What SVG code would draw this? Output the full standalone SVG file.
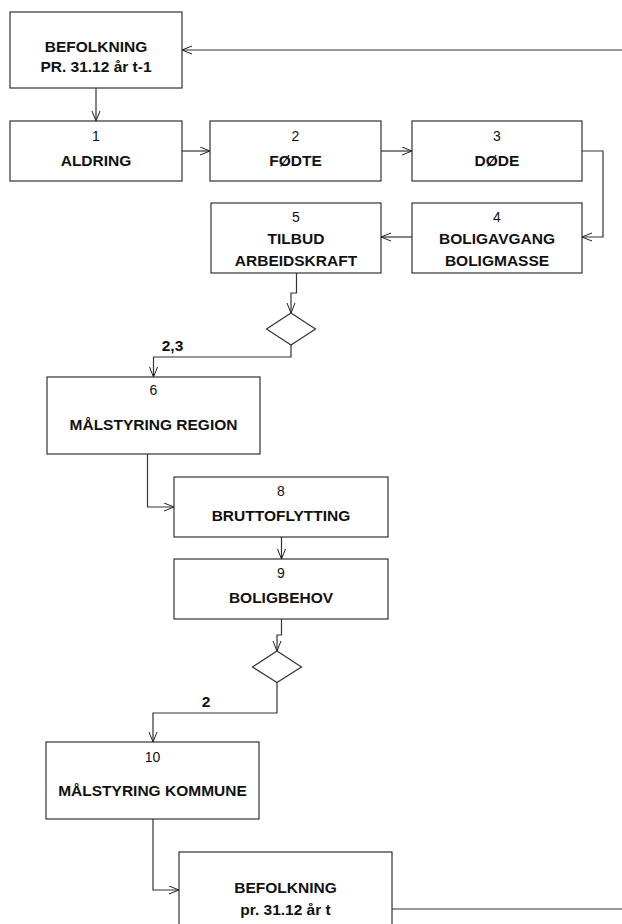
<svg xmlns="http://www.w3.org/2000/svg" width="622" height="924" viewBox="0 0 622 924">
<defs>
<marker id="arr" markerUnits="userSpaceOnUse" markerWidth="12" markerHeight="10" refX="10" refY="4.5" orient="auto">
<path d="M0,0.5 L10,4.5 L0,8.5" fill="none" stroke="#222" stroke-width="1"/>
</marker>
<style>
.box{fill:#fff;stroke:#333;stroke-width:1.2}
.c{fill:none;stroke:#333;stroke-width:1.2}
.b{font-family:"Liberation Sans",Arial,sans-serif;font-weight:bold;font-size:15.5px;text-anchor:middle;fill:#111}
.n{font-family:"Liberation Sans",Arial,sans-serif;font-size:14px;text-anchor:middle;fill:#111}
</style>
</defs>
<rect width="622" height="924" fill="#fff"/>
<g id="connectors">
<path class="c" d="M622,50 H182" marker-end="url(#arr)"/>
<path class="c" d="M96,88 V121" marker-end="url(#arr)"/>
<path class="c" d="M182,151 H210" marker-end="url(#arr)"/>
<path class="c" d="M381,151 H412" marker-end="url(#arr)"/>
<path class="c" d="M582,151 H603 V237 H582" marker-end="url(#arr)"/>
<path class="c" d="M412,237 H381" marker-end="url(#arr)"/>
<path class="c" d="M296.5,273 V293 H291 V313" marker-end="url(#arr)"/>
<path class="c" d="M291,345 V357 H153.5 V377" marker-end="url(#arr)"/>
<path class="c" d="M147.5,454 V507 H174" marker-end="url(#arr)"/>
<path class="c" d="M281.5,537 V559" marker-end="url(#arr)"/>
<path class="c" d="M281.5,619 V635 H277 V651" marker-end="url(#arr)"/>
<path class="c" d="M277,682.5 V713 H153 V742" marker-end="url(#arr)"/>
<path class="c" d="M153,819 V890 H179" marker-end="url(#arr)"/>
<path class="c" d="M392,909 H622"/>
<text class="b" x="172.5" y="351">2,3</text>
<text class="b" x="206" y="707">2</text>
</g>
<g id="n0">
<rect class="box" x="10" y="12" width="172" height="76"/>
<text class="b" x="96" y="52">BEFOLKNING</text>
<text class="b" x="96" y="72">PR. 31.12 år t-1</text>
</g>
<g id="n1">
<rect class="box" x="10" y="121" width="172" height="60"/>
<text class="n" x="96" y="141">1</text>
<text class="b" x="96" y="165.5">ALDRING</text>
</g>
<g id="n2">
<rect class="box" x="210" y="121" width="171" height="60"/>
<text class="n" x="295.5" y="141">2</text>
<text class="b" x="295.5" y="165.5">FØDTE</text>
</g>
<g id="n3">
<rect class="box" x="412" y="121" width="170" height="60"/>
<text class="n" x="497" y="141">3</text>
<text class="b" x="497" y="165.5">DØDE</text>
</g>
<g id="n4">
<rect class="box" x="412" y="203" width="170" height="70"/>
<text class="n" x="497" y="222">4</text>
<text class="b" x="497" y="243.5">BOLIGAVGANG</text>
<text class="b" x="497" y="265.5">BOLIGMASSE</text>
</g>
<g id="n5">
<rect class="box" x="211" y="203" width="170" height="70"/>
<text class="n" x="296" y="222">5</text>
<text class="b" x="296" y="243.5">TILBUD</text>
<text class="b" x="296" y="265.5">ARBEIDSKRAFT</text>
</g>
<g id="d1">
<path class="box" d="M291,313 L315.5,329 L291,345 L266.5,329 Z"/>
</g>
<g id="n6">
<rect class="box" x="47" y="377" width="213" height="77"/>
<text class="n" x="153.5" y="395">6</text>
<text class="b" x="153.5" y="429.5">MÅLSTYRING REGION</text>
</g>
<g id="n8">
<rect class="box" x="174" y="477" width="214" height="60"/>
<text class="n" x="281" y="495.5">8</text>
<text class="b" x="281" y="521">BRUTTOFLYTTING</text>
</g>
<g id="n9">
<rect class="box" x="174" y="559" width="214" height="60"/>
<text class="n" x="281" y="577.5">9</text>
<text class="b" x="281" y="602.5">BOLIGBEHOV</text>
</g>
<g id="d2">
<path class="box" d="M277,651 L301.5,667 L277,682.5 L252.5,667 Z"/>
</g>
<g id="n10">
<rect class="box" x="46" y="742" width="213" height="77"/>
<text class="n" x="152.5" y="761.5">10</text>
<text class="b" x="152.5" y="796">MÅLSTYRING KOMMUNE</text>
</g>
<g id="n11">
<rect class="box" x="179" y="852" width="213" height="80"/>
<text class="b" x="285.5" y="893">BEFOLKNING</text>
<text class="b" x="285.5" y="914.5">pr. 31.12 år t</text>
</g>
</svg>
